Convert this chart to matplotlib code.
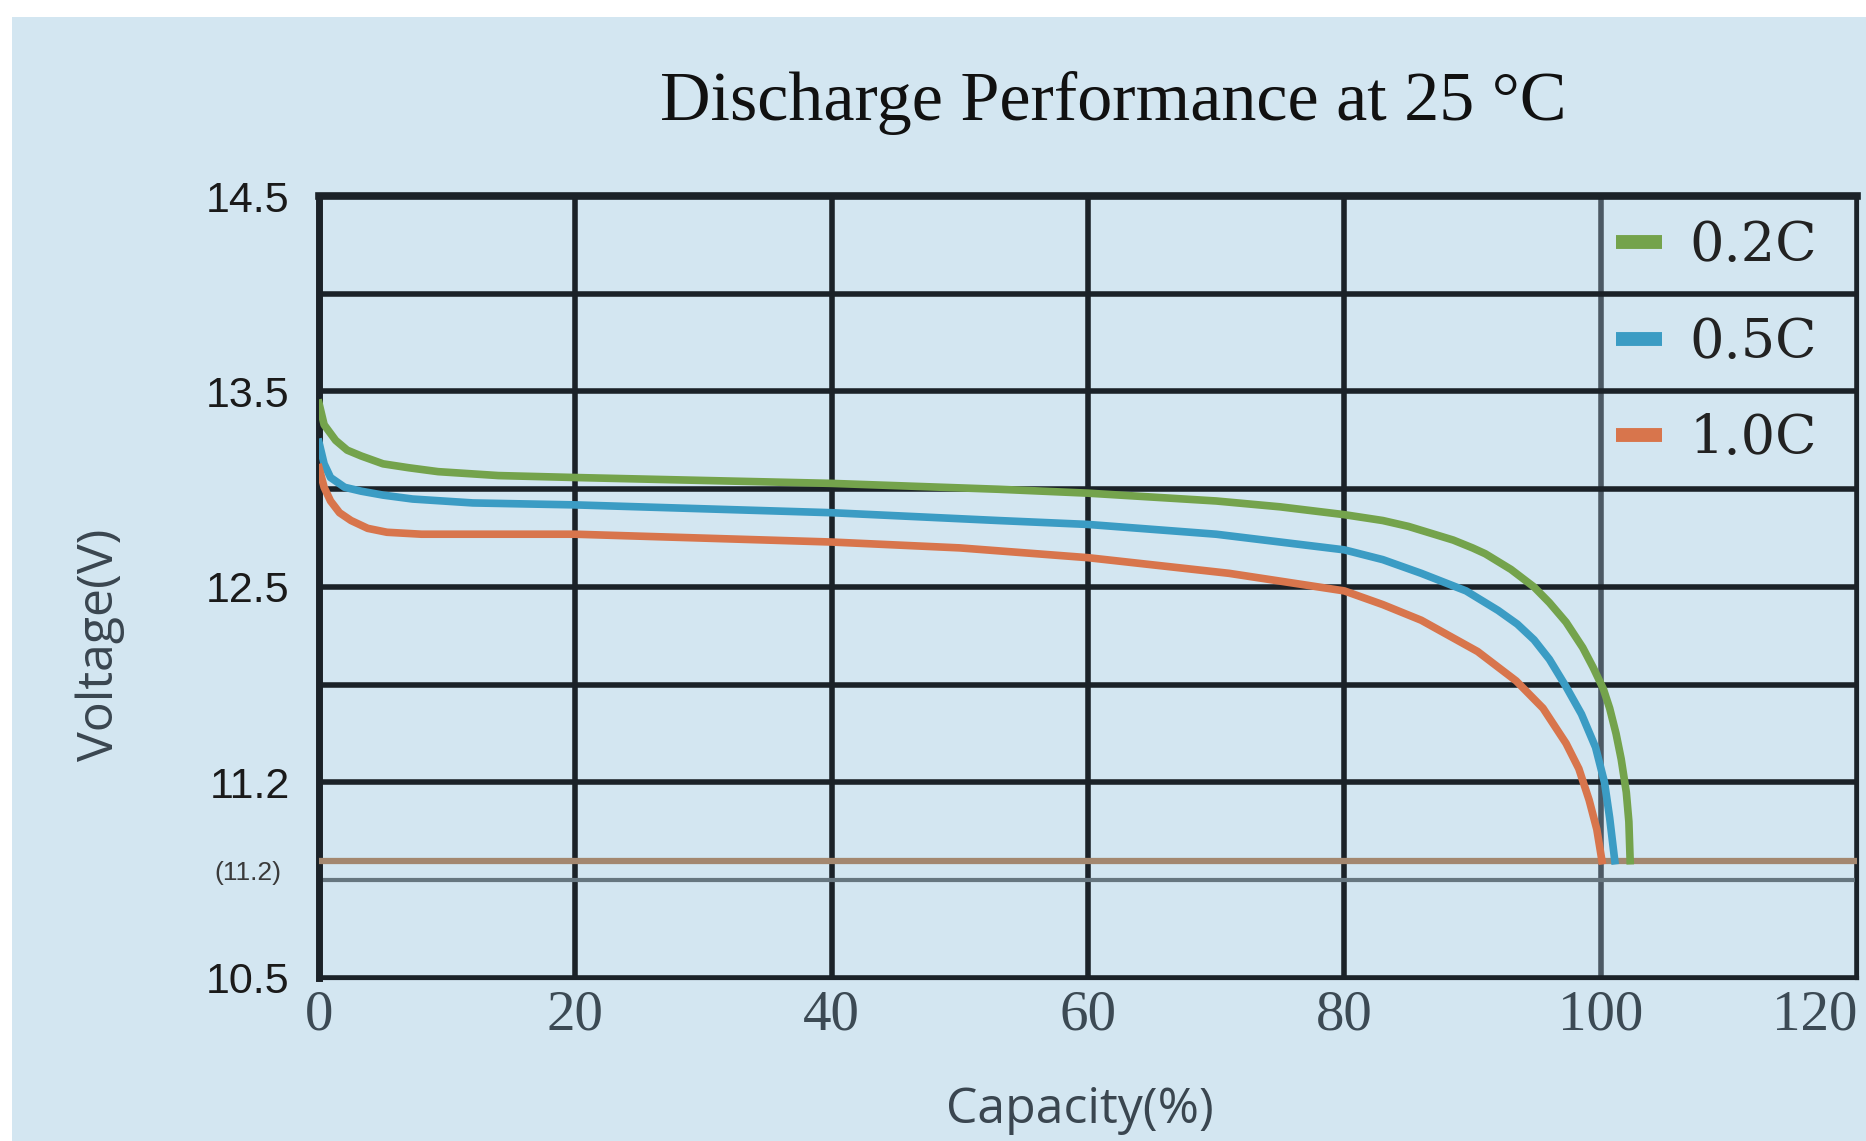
import numpy as np
import matplotlib
matplotlib.use("Agg")
import matplotlib.pyplot as plt
from matplotlib.patches import Rectangle

# capacity (%) vs voltage (V)
cap_02 = [0, 0.4, 1.3, 2.2, 3.3, 5, 7, 9.3, 14, 20, 30, 40, 53, 60, 65, 70, 75, 80, 83, 85, 87,
          88.5, 90, 91, 93, 94.8, 96, 97.3, 98.6, 99.4, 100.2, 100.7, 101.2, 101.6, 102, 102.2, 102.3]
volt_02 = [13.44, 13.33, 13.25, 13.2, 13.17, 13.13, 13.11, 13.09, 13.07, 13.06, 13.045, 13.03, 13.0, 12.98, 12.96,
           12.94, 12.91, 12.87, 12.84, 12.81, 12.77, 12.74, 12.70, 12.67, 12.59, 12.5, 12.42, 12.32, 12.19,
           12.09, 11.98, 11.88, 11.75, 11.62, 11.45, 11.3, 11.1]

cap_05 = [0, 0.4, 0.9, 2, 3.3, 5, 7.3, 12, 20, 30, 40, 53, 60, 70, 80, 83, 86, 89.5, 92, 93.5, 94.8,
          96, 97.3, 98.5, 99.6, 100.3, 100.7, 101.1]
volt_05 = [13.24, 13.13, 13.06, 13.01, 12.99, 12.97, 12.95, 12.93, 12.92, 12.9, 12.88, 12.84, 12.82, 12.77,
           12.69, 12.64, 12.57, 12.48, 12.38, 12.31, 12.23, 12.13, 11.99, 11.85, 11.68, 11.5, 11.32, 11.1]

cap_10 = [0, 0.4, 0.9, 1.6, 2.5, 3.8, 5.3, 8, 11, 20, 30, 40, 50, 60, 71, 80, 83, 86, 88.2, 90.4,
          92, 93.4, 95.5, 97.3, 98.3, 99.1, 99.7, 100.1]
volt_10 = [13.11, 13.01, 12.94, 12.88, 12.84, 12.8, 12.78, 12.77, 12.77, 12.77, 12.75, 12.73, 12.7, 12.65,
           12.57, 12.48, 12.41, 12.33, 12.25, 12.17, 12.09, 12.02, 11.88, 11.7, 11.57, 11.41, 11.26, 11.1]

labels = ["0.2C", "0.5C", "1.0C"]
colors = ["#74a34c", "#3b9cc4", "#d8754c"]

cutoff = 11.1
yticks = [10.5, 11.0, 11.5, 12.0, 12.5, 13.0, 13.5, 14.0, 14.5]
ytick_labels = ["10.5", "", "11.2", "", "12.5", "", "13.5", "", "14.5"]
xticks = [0, 20, 40, 60, 80, 100, 120]

bg = "#d3e6f1"
dark = "#1b2228"

fig = plt.figure(figsize=(18.66, 11.41), dpi=100, facecolor="white")
# light blue panel (white strip on top and left like the source image)
fig.patches.append(Rectangle((12 / 1866, 0), 1, 1 - 17 / 1141, transform=fig.transFigure,
                             facecolor=bg, edgecolor="none", zorder=-10))

ax = fig.add_axes([0.17095, 0.14286, 0.82423, 0.68536])
ax.set_facecolor(bg)

ax.plot(cap_02, volt_02, color=colors[0], lw=5.5, label=labels[0], zorder=4)
ax.plot(cap_05, volt_05, color=colors[1], lw=5.5, label=labels[1], zorder=4)
ax.plot(cap_10, volt_10, color=colors[2], lw=5.5, label=labels[2], zorder=4)
ax.axhline(cutoff, color="#a3876f", lw=4.5, zorder=3)

ax.set_xlim(0, 120)
ax.set_ylim(10.5, 14.5)
ax.set_xticks(xticks)
ax.set_yticks(yticks)
ax.set_yticklabels(ytick_labels)
ax.set_yticks([cutoff], minor=True)
ax.set_yticklabels(["(11.2)"], minor=True)

ax.grid(True, color=dark, lw=4)
ax.set_axisbelow(True)
ax.get_ygridlines()[1].set_color("#66767f")
ax.get_ygridlines()[1].set_linewidth(3)
ax.get_xgridlines()[5].set_color("#4c5964")

ax.tick_params(axis="y", which="major", length=0, pad=21, labelsize=31, labelcolor="#1a1a1a")
ax.tick_params(axis="y", which="minor", length=0, pad=27, labelsize=19, labelcolor="#3a3a3a")
ax.tick_params(axis="x", length=0, pad=8, labelsize=41, labelcolor="#3c4a54")
for lab in ax.get_yticklabels(which="both"):
    lab.set_fontfamily("Liberation Sans")
for lab in ax.get_yticklabels(which="minor"):
    lab.set_verticalalignment("top")
for lab in ax.get_xticklabels():
    lab.set_fontfamily("Liberation Serif")
ax.get_xticklabels()[-1].set_horizontalalignment("right")

for side, w in [("left", 5), ("top", 5.5), ("bottom", 3), ("right", 3)]:
    ax.spines[side].set_color(dark)
    ax.spines[side].set_linewidth(w)

ax.set_xlabel("Capacity(%)", fontsize=36, family="Open Sans", color="#3a4650")
ax.xaxis.set_label_coords(0.495, -0.137)
ax.set_ylabel("Voltage(V)", fontsize=36, family="Open Sans", color="#3a4650")
ax.yaxis.set_label_coords(-0.126, 0.426)

fig.text(0.5965, 1 - 120 / 1141, "Discharge Performance at 25 °C", ha="center", va="baseline",
         fontsize=50.5, family="Liberation Serif", color="#111")

leg = ax.legend(loc="upper left", bbox_to_anchor=(0.8433, 0.969), frameon=False,
                prop={"family": "DejaVu Serif", "size": 39}, handlelength=0.85,
                handletextpad=0.5, labelspacing=0.82, borderpad=0, borderaxespad=0)
for h in leg.legend_handles:
    h.set_linewidth(10)
    h.set_solid_capstyle("butt")
for t in leg.get_texts():
    t.set_color("#222")

fig.savefig("out.png", dpi=100, facecolor=fig.get_facecolor())
